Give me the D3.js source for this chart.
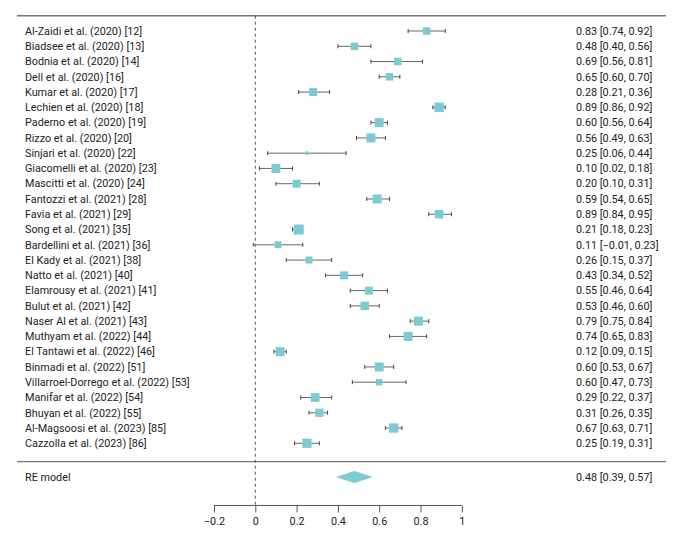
<!DOCTYPE html>
<html>
<head>
<meta charset="utf-8">
<script src="https://cdn.jsdelivr.net/npm/d3@7"></script>
<style>
  body { margin: 0; background: #fff; }
  text { font-family: Roboto, "Noto Sans", sans-serif; fill: #222; }
</style>
</head>
<body>
<svg id="forest" width="683" height="545"></svg>
<script>
// studies, top to bottom
const studies = [
  "Al-Zaidi et al. (2020) [12]", "Biadsee et al. (2020) [13]", "Bodnia et al. (2020) [14]",
  "Dell et al. (2020) [16]", "Kumar et al. (2020) [17]", "Lechien et al. (2020) [18]",
  "Paderno et al. (2020) [19]", "Rizzo et al. (2020) [20]", "Sinjari et al. (2020) [22]",
  "Giacomelli et al. (2020) [23]", "Mascitti et al. (2020) [24]", "Fantozzi et al. (2021) [28]",
  "Favia et al. (2021) [29]", "Song et al. (2021) [35]", "Bardellini et al. (2021) [36]",
  "El Kady et al. (2021) [38]", "Natto et al. (2021) [40]", "Elamrousy et al. (2021) [41]",
  "Bulut et al. (2021) [42]", "Naser Al et al. (2021) [43]", "Muthyam et al. (2022) [44]",
  "El Tantawi et al. (2022) [46]", "Binmadi et al. (2022) [51]", "Villarroel-Dorrego et al. (2022) [53]",
  "Manifar et al. (2022) [54]", "Bhuyan et al. (2022) [55]", "Al-Magsoosi et al. (2023) [85]",
  "Cazzolla et al. (2023) [86]"
];
const estimates = [0.83, 0.48, 0.69, 0.65, 0.28, 0.89, 0.60, 0.56, 0.25, 0.10, 0.20, 0.59, 0.89, 0.21,
  0.11, 0.26, 0.43, 0.55, 0.53, 0.79, 0.74, 0.12, 0.60, 0.60, 0.29, 0.31, 0.67, 0.25];
const lower = [0.74, 0.40, 0.56, 0.60, 0.21, 0.86, 0.56, 0.49, 0.06, 0.02, 0.10, 0.54, 0.84, 0.18,
  -0.01, 0.15, 0.34, 0.46, 0.46, 0.75, 0.65, 0.09, 0.53, 0.47, 0.22, 0.26, 0.63, 0.19];
const upper = [0.92, 0.56, 0.81, 0.70, 0.36, 0.92, 0.64, 0.63, 0.44, 0.18, 0.31, 0.65, 0.95, 0.23,
  0.23, 0.37, 0.52, 0.64, 0.60, 0.84, 0.83, 0.15, 0.67, 0.73, 0.37, 0.35, 0.71, 0.31];
const weights = [3.26, 3.26, 3.26, 3.26, 3.48, 4.13, 3.91, 3.91, 1.52, 3.91, 3.48, 3.91, 3.69, 4.35,
  3.04, 3.04, 3.48, 3.48, 3.69, 3.91, 3.91, 3.91, 3.91, 2.82, 3.78, 3.61, 4.04, 4.04];
const summaryLabel = "RE model";
const summary = { est: 0.48, lo: 0.39, hi: 0.57 };
const tickValues = [-0.2, 0, 0.2, 0.4, 0.6, 0.8, 1];

const svg = d3.select("#forest");
const k = studies.length;
const fontSize = "10.8px";

const x = d3.scaleLinear().domain([0, 1]).range([255.3, 461.8]);
// row numbers: studies k..1, separator just below 0, summary below that
const y = d3.scaleLinear().domain([k, 1]).range([31, 443.3]);
const size = d3.scaleLinear().domain([0, d3.max(weights)]).range([0, 10]);
const fmt = d3.format(".2f");

const lineLeft = 17, lineRight = 666;
const rowTop = y(k + 1), rowSep = y(-0.2), rowSum = y(-1.2), axisY = y(-3.07);

// horizontal rules
svg.selectAll("line.rule")
  .data([rowTop, rowSep])
  .enter().append("line")
  .attr("x1", lineLeft).attr("x2", lineRight)
  .attr("y1", d => d).attr("y2", d => d)
  .attr("stroke", "#777").attr("stroke-width", 1.3);

// reference line at 0
svg.append("line")
  .attr("x1", x(0)).attr("x2", x(0))
  .attr("y1", rowTop).attr("y2", axisY)
  .attr("stroke", "#555").attr("stroke-dasharray", "3,3");

const rows = studies.map((s, i) => ({
  name: s, est: estimates[i], lo: lower[i], hi: upper[i], w: weights[i], row: k - i
}));

const g = svg.append("g");
const cap = 2;

g.selectAll("line.ci")
  .data(rows).enter().append("line")
  .attr("x1", d => x(d.lo)).attr("x2", d => x(d.hi))
  .attr("y1", d => y(d.row)).attr("y2", d => y(d.row))
  .attr("stroke", "#666").attr("stroke-width", 1);

["lo", "hi"].forEach(key => {
  g.selectAll("line.cap-" + key)
    .data(rows).enter().append("line")
    .attr("x1", d => x(d[key])).attr("x2", d => x(d[key]))
    .attr("y1", d => y(d.row) - cap).attr("y2", d => y(d.row) + cap)
    .attr("stroke", "#444").attr("stroke-width", 1);
});

g.selectAll("rect.sq")
  .data(rows).enter().append("rect")
  .attr("x", d => x(d.est) - size(d.w) / 2)
  .attr("y", d => y(d.row) - size(d.w) / 2)
  .attr("width", d => size(d.w))
  .attr("height", d => size(d.w))
  .attr("fill", "#7ccbd3");

// study labels
g.selectAll("text.lab")
  .data(rows).enter().append("text")
  .attr("x", 25).attr("y", d => y(d.row))
  .attr("dy", "0.35em")
  .style("font-size", fontSize)
  .text(d => d.name);

// estimates text
g.selectAll("text.est")
  .data(rows).enter().append("text")
  .attr("x", 576).attr("y", d => y(d.row))
  .attr("dy", "0.35em")
  .style("font-size", fontSize)
  .text(d => `${fmt(d.est)} [${fmt(d.lo)}, ${fmt(d.hi)}]`);

// summary
svg.append("text")
  .attr("x", 25).attr("y", rowSum).attr("dy", "0.35em")
  .style("font-size", fontSize)
  .text(summaryLabel);
svg.append("text")
  .attr("x", 576).attr("y", rowSum).attr("dy", "0.35em")
  .style("font-size", fontSize)
  .text(`${fmt(summary.est)} [${fmt(summary.lo)}, ${fmt(summary.hi)}]`);

const dh = 6;
svg.append("path")
  .attr("d", d3.line()([
    [x(summary.lo), rowSum], [x(summary.est), rowSum - dh],
    [x(summary.hi), rowSum], [x(summary.est), rowSum + dh]
  ]) + "Z")
  .attr("fill", "#7ccbd3");

// x axis
const axis = d3.axisBottom(x)
  .tickValues(tickValues)
  .tickSize(7)
  .tickFormat(d => d === 0 || d === 1 ? String(d) : d3.format(".1f")(d));
const ax = svg.append("g")
  .attr("transform", `translate(0,${axisY})`)
  .call(axis);
ax.select(".domain").attr("stroke", "#555").attr("d", `M${x(-0.2)},0H${x(1)}`);
ax.selectAll(".tick line").attr("stroke", "#555");
ax.selectAll(".tick text")
  .style("font-family", "Roboto, sans-serif")
  .style("font-size", fontSize)
  .attr("fill", "#222")
  .attr("dy", "0.9em");
</script>
</body>
</html>
